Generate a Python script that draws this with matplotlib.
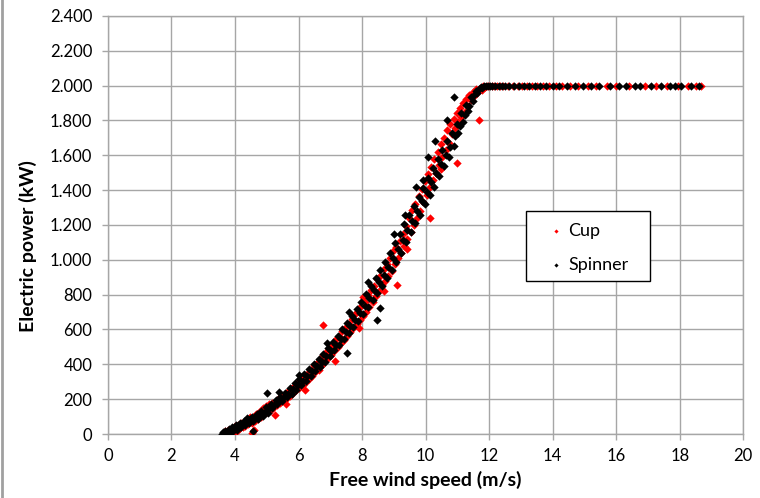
import matplotlib
matplotlib.use("Agg")
from matplotlib import pyplot as plt
from matplotlib.lines import Line2D
from matplotlib.patches import Rectangle

# (wind speed m/s, power kW)
cup_points = [
    (3.63, 2), (3.68, 15), (3.74, 0), (3.79, 25), (3.85, 8), (3.90, 30), (3.96, 12), (4.01, 45),
    (4.05, 20), (4.10, 52), (4.14, 30), (4.19, 62), (4.24, 38), (4.28, 70), (4.33, 48), (4.38, 82),
    (4.42, 58), (4.47, 95), (4.52, 62), (4.55, 8), (4.60, 22), (4.57, 100), (4.62, 75), (4.67, 112),
    (4.72, 85), (4.77, 125), (4.82, 98), (4.87, 148), (4.92, 118), (4.97, 160), (5.02, 125), (5.07, 170),
    (5.12, 140), (5.17, 178), (5.22, 155), (5.26, 109), (5.28, 190), (5.33, 165), (5.38, 205), (5.43, 180),
    (5.48, 215), (5.53, 190), (5.58, 228), (5.60, 170), (5.63, 205), (5.68, 245), (5.73, 220), (5.78, 262),
    (5.83, 235), (5.88, 275), (5.93, 250), (5.98, 298), (6.03, 265), (6.08, 308), (6.13, 280), (6.18, 330),
    (6.20, 250), (6.23, 300), (6.28, 345), (6.33, 318), (6.38, 365), (6.43, 335), (6.48, 395), (6.53, 355),
    (6.58, 405), (6.63, 370), (6.68, 430), (6.77, 626), (6.73, 398), (6.78, 452), (6.83, 420), (6.88, 470),
    (6.93, 438), (6.98, 500), (7.03, 455), (7.08, 510), (7.13, 478), (7.15, 420), (7.18, 545), (7.23, 500),
    (7.28, 560), (7.33, 525), (7.38, 590), (7.43, 540), (7.48, 612), (7.53, 560), (7.58, 630), (7.63, 585),
    (7.68, 660), (7.73, 610), (7.78, 690), (7.83, 630), (7.88, 705), (7.90, 610), (7.93, 655), (7.98, 735),
    (8.03, 787), (8.03, 680), (8.08, 760), (8.13, 700), (8.18, 800), (8.23, 730), (8.28, 825), (8.33, 760),
    (8.38, 850), (8.43, 790), (8.48, 890), (8.53, 820), (8.58, 905), (8.63, 855), (8.68, 945), (8.70, 820),
    (8.73, 880), (8.78, 975), (8.83, 905), (8.88, 1010), (8.93, 935), (8.98, 1050), (9.03, 975), (9.09, 856),
    (9.08, 1075), (9.13, 1010), (9.18, 1110), (9.23, 1040), (9.28, 1150), (9.33, 1080), (9.38, 1195),
    (9.40, 1060), (9.43, 1120), (9.48, 1240), (9.53, 1160), (9.58, 1285), (9.63, 1200), (9.68, 1320),
    (9.73, 1240), (9.78, 1365), (9.83, 1280), (9.88, 1405), (9.93, 1330), (9.98, 1450), (10.03, 1370),
    (10.08, 1490), (10.14, 1241), (10.13, 1420), (10.18, 1535), (10.23, 1460), (10.28, 1580), (10.33, 1500),
    (10.38, 1620), (10.43, 1545), (10.48, 1665), (10.50, 1520), (10.53, 1590), (10.58, 1700), (10.63, 1630),
    (10.68, 1745), (10.73, 1670), (10.78, 1780), (10.83, 1720), (10.88, 1810), (10.93, 1755), (10.98, 1845),
    (11.00, 1557), (11.03, 1790), (11.08, 1870), (11.13, 1820), (11.18, 1900), (11.23, 1850), (11.28, 1925),
    (11.33, 1885), (11.38, 1945), (11.43, 1915), (11.48, 1965), (11.53, 1940), (11.58, 1978), (11.63, 1960),
    (11.69, 1800), (11.70, 1988), (11.76, 1975), (11.82, 1995), (11.88, 1990), (11.94, 2000), (12.00, 1996),
    (12.08, 2000), (12.16, 2000), (12.25, 2000), (12.35, 2000), (12.45, 2000), (12.60, 2000), (12.75, 2000),
    (12.90, 2000), (13.05, 2000), (13.20, 2000), (13.35, 2000), (13.50, 2000), (13.70, 2000), (13.90, 2000),
    (14.10, 2000), (14.30, 2000), (14.55, 2000), (14.80, 2000), (15.10, 2000), (15.35, 2000), (15.70, 2000),
    (16.00, 2000), (16.40, 2000), (16.90, 2000), (17.25, 2000), (17.60, 2000), (17.95, 2000), (18.25, 2000),
    (18.50, 2000), (18.68, 2000),
]

spinner_points = [
    (3.58, 0), (3.61, 12), (3.65, 4), (3.69, 20), (3.72, 0), (3.76, 14), (3.80, 30), (3.83, 6),
    (3.87, 22), (3.91, 40), (3.95, 15), (3.99, 32), (4.03, 50), (4.07, 25), (4.11, 45), (4.15, 65),
    (4.19, 38), (4.23, 58), (4.27, 75), (4.31, 50), (4.35, 70), (4.39, 90), (4.43, 62), (4.48, 85),
    (4.53, 100), (4.57, 17), (4.58, 72), (4.63, 95), (4.68, 115), (4.73, 88), (4.78, 110), (4.83, 130),
    (4.88, 105), (4.93, 125), (4.98, 155), (5.00, 235), (5.03, 120), (5.08, 150), (5.13, 175), (5.18, 148),
    (5.23, 168), (5.28, 195), (5.33, 170), (5.38, 190), (5.40, 240), (5.43, 215), (5.48, 188), (5.53, 212),
    (5.58, 238), (5.63, 210), (5.68, 232), (5.73, 262), (5.78, 232), (5.83, 258), (5.88, 290), (5.93, 255),
    (5.98, 280), (6.00, 340), (6.03, 315), (6.08, 280), (6.13, 305), (6.18, 342), (6.23, 305), (6.28, 332),
    (6.33, 372), (6.38, 335), (6.43, 360), (6.48, 400), (6.53, 360), (6.58, 388), (6.63, 430), (6.68, 385),
    (6.73, 415), (6.78, 462), (6.83, 412), (6.88, 445), (6.90, 520), (6.93, 495), (6.98, 445), (7.03, 478),
    (7.08, 530), (7.13, 480), (7.18, 512), (7.23, 565), (7.28, 512), (7.33, 548), (7.38, 600), (7.43, 548),
    (7.48, 585), (7.53, 465), (7.53, 640), (7.58, 580), (7.60, 700), (7.63, 620), (7.68, 680), (7.73, 612),
    (7.78, 655), (7.83, 720), (7.88, 650), (7.93, 695), (7.98, 760), (8.03, 690), (8.08, 735), (8.13, 805),
    (8.18, 730), (8.20, 870), (8.23, 780), (8.28, 850), (8.33, 770), (8.38, 825), (8.43, 895), (8.47, 655),
    (8.48, 810), (8.53, 870), (8.57, 724), (8.58, 940), (8.63, 850), (8.68, 915), (8.73, 985), (8.78, 895),
    (8.83, 960), (8.88, 1040), (8.93, 940), (8.98, 1010), (9.00, 1150), (9.03, 1095), (9.08, 990),
    (9.13, 1060), (9.18, 1150), (9.23, 1040), (9.28, 1115), (9.33, 1205), (9.35, 1259), (9.38, 1100),
    (9.43, 1170), (9.48, 1255), (9.53, 1160), (9.58, 1225), (9.63, 1310), (9.68, 1210), (9.70, 1420),
    (9.73, 1280), (9.78, 1360), (9.83, 1260), (9.88, 1335), (9.92, 1460), (9.93, 1410), (9.98, 1320),
    (10.03, 1390), (10.08, 1592), (10.08, 1470), (10.13, 1370), (10.18, 1445), (10.23, 1525), (10.28, 1420),
    (10.30, 1680), (10.33, 1500), (10.38, 1580), (10.43, 1480), (10.48, 1550), (10.53, 1630), (10.58, 1540),
    (10.63, 1600), (10.68, 1800), (10.68, 1680), (10.73, 1590), (10.78, 1650), (10.83, 1730), (10.88, 1655),
    (10.90, 1937), (10.93, 1710), (10.98, 1780), (11.03, 1730), (11.08, 1770), (11.13, 1840), (11.18, 1790),
    (11.23, 1830), (11.28, 1890), (11.33, 1855), (11.38, 1885), (11.43, 1935), (11.48, 1910), (11.53, 1945),
    (11.58, 1970), (11.63, 1955), (11.68, 1980), (11.73, 1992), (11.78, 1985), (11.84, 1998), (11.90, 1995),
    (11.96, 2000), (12.03, 2000), (12.10, 2000), (12.20, 2000), (12.30, 2000), (12.40, 2000), (12.50, 2000),
    (12.62, 2000), (12.78, 2000), (12.95, 2000), (13.10, 2000), (13.25, 2000), (13.45, 2000), (13.60, 2000),
    (13.80, 2000), (14.00, 2000), (14.20, 2000), (14.45, 2000), (14.70, 2000), (14.95, 2000), (15.20, 2000),
    (15.45, 2000), (15.80, 2000), (16.10, 2000), (16.30, 2000), (16.60, 2000), (16.75, 2000), (17.10, 2000),
    (17.40, 2000), (17.70, 2000), (17.85, 2000), (18.05, 2000), (18.35, 2000), (18.60, 2000),
]

x_ticks = list(range(0, 21, 2))
y_ticks = list(range(0, 2401, 200))
y_labels = [f"{v:,}".replace(",", ".") for v in y_ticks]

plt.rcParams['font.family'] = ['Lato', 'DejaVu Sans']
grid_col = '#a6a6a6'

fig = plt.figure(figsize=(7.6, 4.98), dpi=100)
ax = fig.add_axes([0.142, 0.1285, 0.836, 0.8395])

cup_w = [p[0] for p in cup_points]
cup_p = [p[1] for p in cup_points]
spin_w = [p[0] for p in spinner_points]
spin_p = [p[1] for p in spinner_points]

ax.scatter(cup_w, cup_p, s=18, marker='D', color='#ff0000', linewidths=0, label='Cup', zorder=3)
ax.scatter(spin_w, spin_p, s=18, marker='D', color='black', linewidths=0, label='Spinner', zorder=4)

ax.set_xlim(0, 20)
ax.set_ylim(0, 2400)
ax.set_xticks(x_ticks)
ax.set_yticks(y_ticks)
ax.set_yticklabels(y_labels)
ax.tick_params(labelsize=12, color=grid_col, length=4.3, width=1, direction='out')
ax.tick_params(axis='y', pad=7)
ax.tick_params(axis='x', pad=6)
ax.grid(True, color=grid_col, linewidth=1)
ax.set_axisbelow(True)
for side in ['left', 'bottom', 'right', 'top']:
    ax.spines[side].set_color(grid_col)
    ax.spines[side].set_linewidth(1)

ax.set_xlabel('Free wind speed (m/s)', fontsize=14, fontweight='bold', va='top')
ax.xaxis.set_label_coords(0.5, -0.088)
ax.set_ylabel('Electric power (kW)', fontsize=14, fontweight='bold')
ax.yaxis.set_label_coords(-0.112, 0.45)

# legend: Excel-style box drawn separately, entries placed inside it
ax.add_patch(Rectangle((0.6583, 0.366), 0.1953, 0.1675, transform=ax.transAxes, facecolor='white',
                       edgecolor='black', linewidth=1, zorder=5))
leg = ax.legend(loc='upper left', bbox_to_anchor=(0.688, 0.505), fontsize=13, frameon=False,
                markerscale=0.5, handlelength=1.2, handletextpad=0.1, borderpad=0,
                labelspacing=1.0, borderaxespad=0)
leg.set_zorder(6)

# grey frame line at the left edge of the image
fig.add_artist(Line2D([0.002, 0.002], [0, 1], transform=fig.transFigure, color='#a0a0a0', linewidth=2))

fig.savefig('out.png', dpi=100)
